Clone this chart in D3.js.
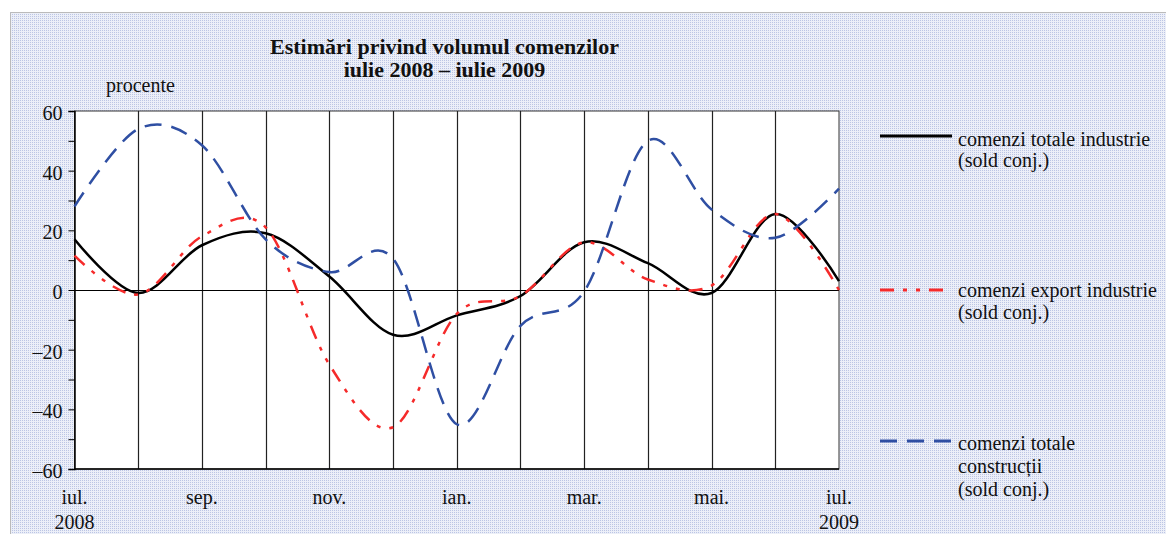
<!DOCTYPE html>
<html><head><meta charset="utf-8">
<script src="https://cdn.jsdelivr.net/npm/d3@7"></script>
<style>body{margin:0;background:#fff}svg{display:block}text{font-family:"Liberation Serif","Times New Roman",serif;fill:#111}</style>
</head><body>
<svg id="c" width="1166" height="534"></svg>
<script>
const months = ["iul.","aug.","sep.","oct.","nov.","dec.","ian.","feb.","mar.","apr.","mai.","iun.","iul."];
const years = ["2008","","","","","","","","","","","","2009"];
const industrie = [17, -1, 15, 19, 4.5, -15, -8.5, -2, 16, 9, -1, 25.5, 3];
const exportInd = [11.5, -1.5, 18, 21, -25, -46, -8, -2, 16, 3.5, 1.5, 25.5, 0];
const constructii = [28, 54, 48.5, 17, 6, 10.5, -45, -12, -0.5, 50, 27, 17.5, 34];
const yTicks = [-60,-50,-40,-30,-20,-10,0,10,20,30,40,50,60];
const seriesNames = [["comenzi totale industrie","(sold conj.)"],["comenzi export industrie","(sold conj.)"],["comenzi totale","construcții","(sold conj.)"]];

const svg = d3.select("#c");
const defs = svg.append("defs");
const pat = defs.append("pattern").attr("id","dots").attr("width",2).attr("height",2).attr("patternUnits","userSpaceOnUse");
pat.append("rect").attr("width",2).attr("height",2).attr("fill","#eceff8");
pat.append("rect").attr("width",1).attr("height",1).attr("fill","#bcc5e4");
svg.append("rect").attr("x",10).attr("y",12).attr("width",1156).attr("height",522).attr("fill","url(#dots)");
svg.append("path").attr("d","M10.5,534V12.5H1166").attr("fill","none").attr("stroke","#bbb");

const L=74.5, R=839, T=111, B=469;
const x = d3.scaleLinear().domain([0, months.length-1]).range([L,R]);
const y = d3.scaleLinear().domain([-60,60]).range([B,T]);

svg.append("rect").attr("x",L).attr("y",T).attr("width",R-L).attr("height",B-T).attr("fill","#fff").attr("stroke","#333").attr("stroke-width",1);
const g = svg.append("g");
g.selectAll("line.v").data(d3.range(1, months.length-1)).join("line")
  .attr("x1",d=>Math.round(x(d))+0.5).attr("x2",d=>Math.round(x(d))+0.5).attr("y1",T).attr("y2",B)
  .attr("stroke","#222").attr("stroke-width",1.2);
g.append("line").attr("x1",L).attr("x2",R).attr("y1",Math.round(y(0))+0.5).attr("y2",Math.round(y(0))+0.5).attr("stroke","#000").attr("stroke-width",1.2);

const yAxis = d3.axisLeft(y).tickValues(yTicks).tickSize(6).tickPadding(6)
  .tickFormat(v => v % 20 === 0 ? (v<0 ? "\u2013"+Math.abs(v) : String(v)) : "");
const ya = svg.append("g").attr("transform",`translate(${L},0)`).call(yAxis);
ya.select(".domain").attr("stroke","#000").attr("stroke-width",1.5);
ya.selectAll(".tick line").attr("stroke","#000");
ya.selectAll("text").attr("font-size",20).attr("font-family","Liberation Serif").attr("fill","#111").attr("dy","0.42em");
svg.append("line").attr("x1",L).attr("x2",R).attr("y1",B).attr("y2",B).attr("stroke","#000").attr("stroke-width",1.5);

// x labels
const xl = svg.append("g");
months.forEach((m,i)=>{
  if(i%2===0){
    xl.append("text").attr("x",x(i)).attr("y",504).attr("text-anchor","middle").attr("font-size",20).text(m);
    if(years[i]) xl.append("text").attr("x",x(i)).attr("y",529).attr("text-anchor","middle").attr("font-size",20).text(years[i]);
  }
});

const line = d3.line().x((d,i)=>x(i)).y(d=>y(d)).curve(d3.curveCardinal.tension(0));
const styles = [
  {data:industrie, color:"#000", w:2.5, dash:null},
  {data:exportInd, color:"#f52a2a", w:2.5, dash:"14,9,4,9,4,9"},
  {data:constructii, color:"#2f4fa3", w:2.5, dash:"17,10"}
];
styles.forEach(s=>{
  svg.append("path").datum(s.data).attr("d",line).attr("fill","none")
    .attr("stroke",s.color).attr("stroke-width",s.w).attr("stroke-dasharray",s.dash);
});

// legend
const legY = [136, 290, 441];
const legText = [[146,167],[297,319],[450,473,496]];
styles.forEach((s,i)=>{
  svg.append("line").attr("x1",880).attr("x2",952).attr("y1",legY[i]).attr("y2",legY[i])
    .attr("stroke",s.color).attr("stroke-width",3).attr("stroke-dasharray",s.dash);
  seriesNames[i].forEach((t,j)=>{
    svg.append("text").attr("x",958).attr("y",legText[i][j]).attr("font-size",20).text(t);
  });
});

// titles
svg.append("text").attr("x",444.5).attr("y",54).attr("text-anchor","middle").attr("font-size",22).attr("font-weight","bold").text("Estimări privind volumul comenzilor");
svg.append("text").attr("x",444.5).attr("y",77).attr("text-anchor","middle").attr("font-size",22).attr("font-weight","bold").text("iulie 2008 – iulie 2009");
svg.append("text").attr("x",106).attr("y",92).attr("font-size",20).text("procente");
</script>
</body></html>
